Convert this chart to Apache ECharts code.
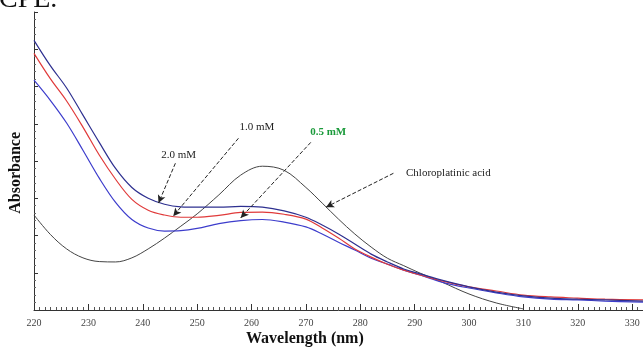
<!DOCTYPE html>
<html>
<head>
<meta charset="utf-8">
<script src="https://cdn.jsdelivr.net/npm/echarts@6/dist/echarts.min.js"></script>
<style>
  html, body { margin: 0; padding: 0; background: #fff; }
  #chart { width: 643px; height: 352px; }
</style>
</head>
<body>
<div id="chart"></div>
<script>
// wavelength (nm)
var wavelength = [220, 223, 226, 229, 232, 235, 238, 241, 244, 247, 250, 254, 258, 262, 266, 270,
  273, 276, 279, 282, 285, 288, 291, 295, 300, 305, 310, 315, 320, 325, 332];
// absorbance (arb. units)
var mM20 = [0.724, 0.656, 0.596, 0.523, 0.450, 0.380, 0.329, 0.300, 0.284, 0.277, 0.276, 0.276, 0.278, 0.276, 0.266, 0.249,
  0.228, 0.204, 0.177, 0.150, 0.129, 0.110, 0.097, 0.080, 0.062, 0.048, 0.038, 0.032, 0.029, 0.027, 0.024];
var mM10 = [0.689, 0.621, 0.561, 0.491, 0.416, 0.351, 0.297, 0.268, 0.255, 0.249, 0.249, 0.254, 0.262, 0.263, 0.257, 0.244,
  0.220, 0.193, 0.164, 0.142, 0.123, 0.107, 0.094, 0.078, 0.062, 0.051, 0.040, 0.035, 0.032, 0.029, 0.027];
var mM05 = [0.617, 0.563, 0.502, 0.429, 0.354, 0.289, 0.243, 0.220, 0.212, 0.213, 0.219, 0.232, 0.240, 0.243, 0.236, 0.223,
  0.204, 0.182, 0.161, 0.139, 0.123, 0.107, 0.094, 0.075, 0.059, 0.046, 0.035, 0.029, 0.027, 0.024, 0.021];
var acid = [0.255, 0.203, 0.164, 0.140, 0.130, 0.129, 0.140, 0.164, 0.193, 0.225, 0.258, 0.309, 0.362, 0.386, 0.375, 0.329,
  0.287, 0.244, 0.204, 0.169, 0.139, 0.119, 0.099, 0.075, 0.043, 0.019, 0.003, null, null, null, null];

// annotation: label, label position [nm, A], arrow start, arrow end, colour
var notes = [
  ['2.0 mM', [246.6, 0.416], [246.0, 0.394], [242.9, 0.287], '#222'],
  ['1.0 mM', [261.0, 0.491], [257.6, 0.461], [245.6, 0.252], '#222'],
  ['0.5 mM', [274.1, 0.477], [270.9, 0.450], [258.0, 0.247], '#1a9a3a'],
  ['Chloroplatinic acid', [287.5, 0.367], [286.1, 0.367], [273.7, 0.276], '#222']
]

function pairs(ys) {
  var out = []
  for (var i = 0; i < wavelength.length; i++) {
    if (ys[i] !== null) out.push([wavelength[i], ys[i]])
  }
  return out
}

var serif = '"Liberation Serif", "DejaVu Serif", serif'

var myChart = echarts.init(document.getElementById('chart'))

var arrowLines = notes.map(function (n) {
  return [{ coord: n[2] }, { coord: n[3] }]
})
var labelPoints = notes.map(function (n) {
  return {
    coord: n[1],
    label: {
      show: true,
      formatter: n[0],
      color: n[4],
      fontWeight: n[0] === '0.5 mM' ? 'bold' : 'normal',
      position: n[0] === 'Chloroplatinic acid' ? 'right' : 'inside'
    }
  }
})

function line(name, data, color, width) {
  return {
    name: name,
    type: 'line',
    data: pairs(data),
    smooth: 0.35,
    symbol: 'none',
    lineStyle: { color: color, width: width },
    silent: true
  }
}

var option = {
  animation: false,
  backgroundColor: '#fff',
  grid: { left: 34, right: 0, top: 12, bottom: 42 },
  xAxis: {
    type: 'value',
    min: 220,
    max: 332,
    interval: 10,
    axisLine: { lineStyle: { color: '#333', width: 1 } },
    axisTick: { inside: true, length: 6, lineStyle: { color: '#333' } },
    minorTick: { show: true, splitNumber: 10, length: 3, lineStyle: { color: '#555' } },
    axisLabel: { color: '#444', fontFamily: serif, fontSize: 10, margin: 8, showMaxLabel: false },
    splitLine: { show: false }
  },
  yAxis: {
    type: 'value',
    min: 0,
    max: 0.8,
    interval: 0.1,
    axisLine: { show: true, lineStyle: { color: '#333', width: 1 } },
    axisTick: { show: true, inside: true, length: 4, lineStyle: { color: '#333' } },
    minorTick: { show: true, splitNumber: 5, length: 2, lineStyle: { color: '#666' } },
    axisLabel: { show: false },
    splitLine: { show: false }
  },
  graphic: [
    {
      type: 'text', left: -1, top: -14,
      style: { text: 'CPE.', font: '28px ' + serif, fill: '#111' }
    },
    {
      type: 'text', left: 8, top: 132, rotation: Math.PI / 2,
      style: { text: 'Absorbance', font: 'bold 16px ' + serif, fill: '#111' }
    },
    {
      type: 'text', left: 246, top: 331,
      style: { text: 'Wavelength (nm)', font: 'bold 16px ' + serif, fill: '#111' }
    }
  ],
  series: [
    line('Chloroplatinic acid', acid, '#444', 1),
    line('0.5 mM', mM05, '#3d3dcc', 1.2),
    line('1.0 mM', mM10, '#e03a3a', 1.2),
    line('2.0 mM', mM20, '#2e3090', 1.2),
    {
      type: 'scatter',
      data: [],
      silent: true,
      markLine: {
        silent: true,
        symbol: ['none', 'arrow'],
        symbolSize: [6, 8],
        label: { show: false },
        lineStyle: { color: '#222', type: 'dashed', width: 1 },
        data: arrowLines
      },
      markPoint: {
        silent: true,
        symbol: 'circle',
        symbolSize: 0,
        label: { fontFamily: serif, fontSize: 11 },
        data: labelPoints
      }
    }
  ]
}
myChart.setOption(option)
</script>
</body>
</html>
